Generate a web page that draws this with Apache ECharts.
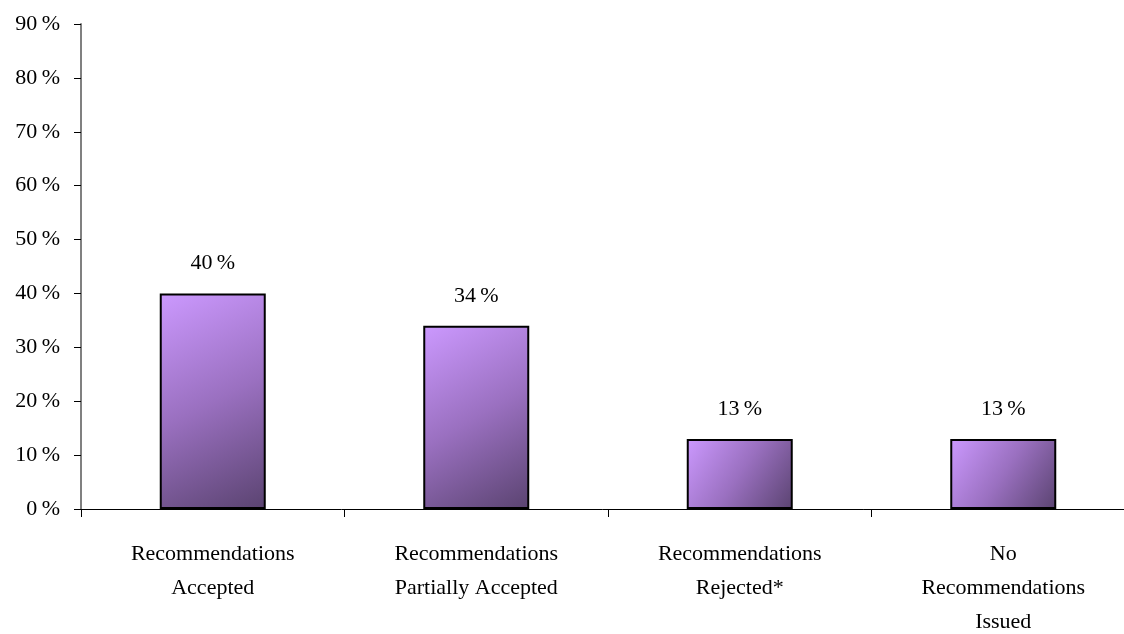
<!DOCTYPE html>
<html>
<head>
<meta charset="utf-8">
<script src="https://cdn.jsdelivr.net/npm/echarts@6/dist/echarts.min.js"></script>
<style>
  html, body { margin: 0; padding: 0; background: #fff; }
  #chart { width: 1124px; height: 634px; }
</style>
</head>
<body>
<div id="chart"></div>
<script>
var categories = ['Recommendations\nAccepted', 'Recommendations\nPartially Accepted', 'Recommendations\nRejected*', 'No\nRecommendations\nIssued'];
var values = [40, 34, 13, 13];

var font = '"Liberation Serif", "DejaVu Serif", serif';
var myChart = echarts.init(document.getElementById('chart'));
var option = {
    animation: false,
    grid: {
        left: 81,
        top: 24,
        width: 1054,
        height: 485,
        containLabel: false,
        outerBoundsMode: 'none'
    },
    xAxis: {
        type: 'category',
        data: categories,
        axisLine: { lineStyle: { color: '#000', width: 1 } },
        axisTick: { show: true, length: 8, lineStyle: { color: '#000' } },
        axisLabel: {
            interval: 0,
            color: '#000',
            fontFamily: font,
            fontSize: 22,
            lineHeight: 34,
            margin: 28
        }
    },
    yAxis: {
        type: 'value',
        min: 0,
        max: 90,
        interval: 10,
        splitLine: { show: false },
        axisLine: { show: true, lineStyle: { color: '#808080', width: 2 } },
        axisTick: { show: true, length: 7, lineStyle: { color: '#000' } },
        axisLabel: {
            formatter: '{value}\u2009%',
            color: '#000',
            fontFamily: font,
            fontSize: 22,
            margin: 21
        }
    },
    series: [{
        type: 'bar',
        data: values,
        barWidth: 106,
        itemStyle: {
            borderColor: '#000',
            borderWidth: 2,
            color: new echarts.graphic.LinearGradient(0, 0, 1, 1, [
                { offset: 0, color: '#cc99ff' },
                { offset: 0.5, color: '#9a70c0' },
                { offset: 1, color: '#5a4370' }
            ])
        },
        label: {
            show: true,
            position: 'top',
            distance: 19,
            formatter: '{c}\u2009%',
            color: '#000',
            fontFamily: font,
            fontSize: 22
        }
    }]
};
myChart.setOption(option, true);
</script>
</body>
</html>
